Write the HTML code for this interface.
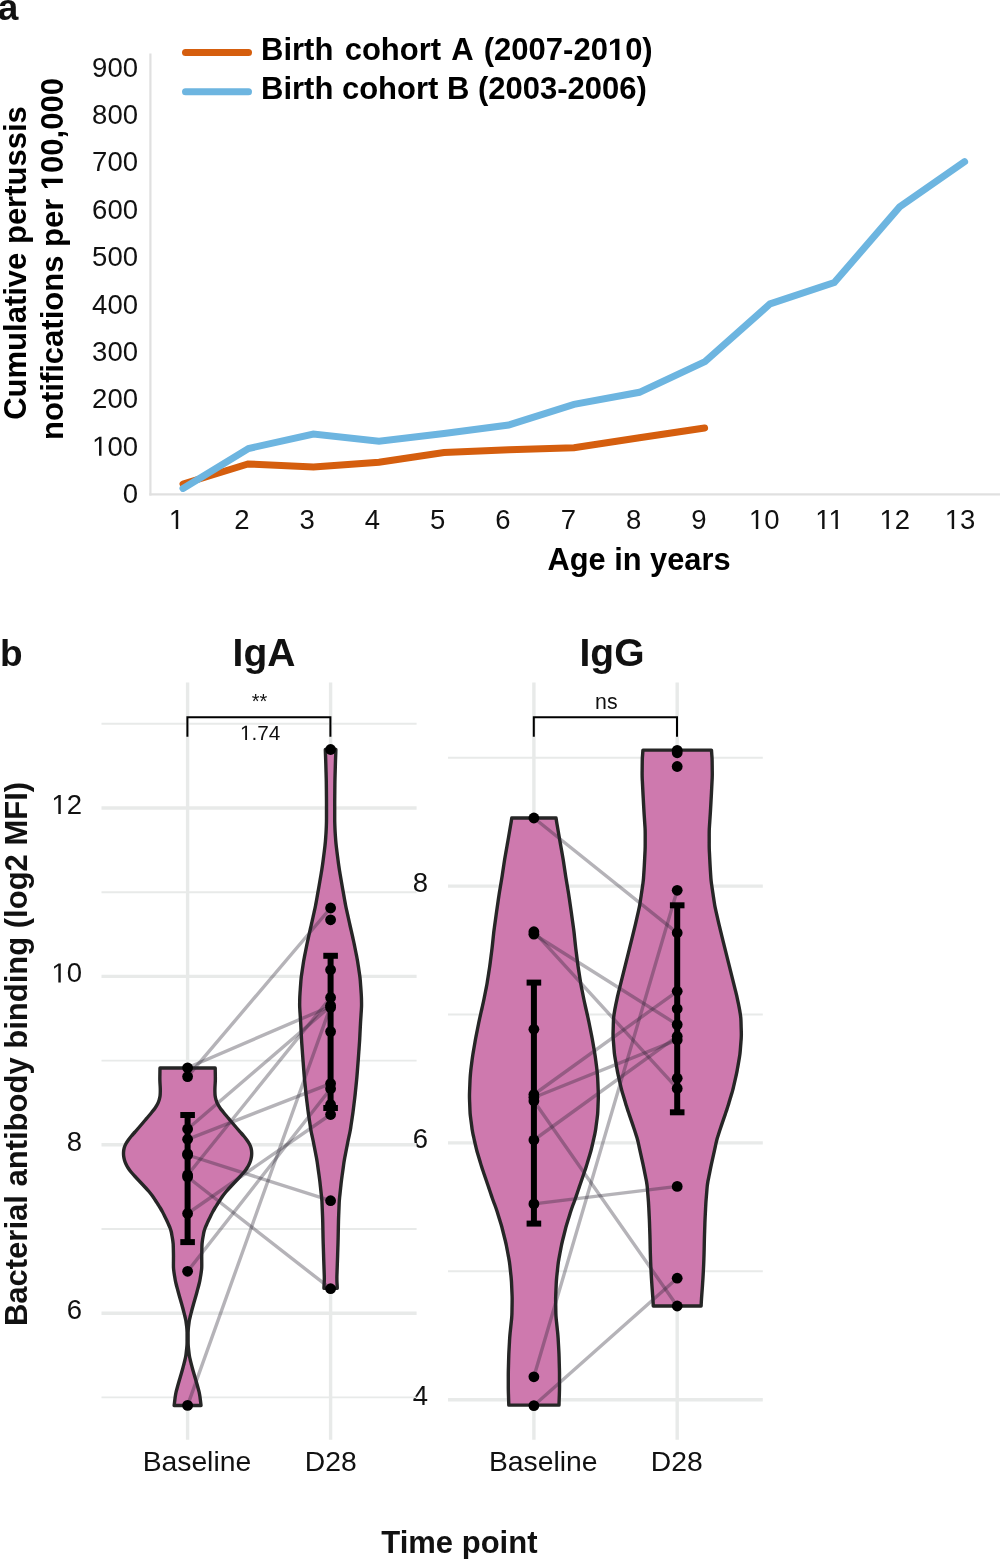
<!DOCTYPE html>
<html><head>
<meta charset="utf-8">
<style>
html,body{margin:0;padding:0;background:#fff;}
body{width:1000px;height:1559px;overflow:hidden;}
svg{display:block;will-change:transform;}
text{font-family:"Liberation Sans",sans-serif;fill:#111;}
.b{font-weight:bold;}
.one{fill:none !important;}
</style>
</head>
<body>
<svg width="1000" height="1559" viewBox="0 0 1000 1559">
<!-- ===== Panel a ===== -->
<text class="b" x="-2.3" y="20" font-size="37">a</text>
<!-- axes -->
<line x1="150.4" y1="53.5" x2="150.4" y2="495.5" stroke="#e0e0e0" stroke-width="2.2"></line>
<line x1="149.3" y1="494.4" x2="1000" y2="494.4" stroke="#e0e0e0" stroke-width="2.2"></line>
<!-- y tick labels -->
<g font-size="27.5" text-anchor="end" id="ayl">
<text x="138" y="76.5">900</text>
<text x="138" y="123.9">800</text>
<text x="138" y="171.3">700</text>
<text x="138" y="218.7">600</text>
<text x="138" y="266.1">500</text>
<text x="138" y="313.5">400</text>
<text x="138" y="360.9">300</text>
<text x="138" y="408.3">200</text>
<text x="138" y="455.7"><tspan class="one">1</tspan>00</text><path d="M515,0 L515,1237 L197,1010 L197,1180 L530,1409 L696,1409 L696,0 Z" transform="translate(92.11,455.70) scale(0.013428,-0.013428)" fill="rgb(17, 17, 17)"></path>
<text x="138" y="503.1">0</text>
</g>
<!-- x tick labels -->
<g font-size="27.5" text-anchor="middle" id="axl">
<text x="176.5" y="529"><tspan class="one">1</tspan></text><path d="M515,0 L515,1237 L197,1010 L197,1180 L530,1409 L696,1409 L696,0 Z" transform="translate(168.85,529.00) scale(0.013428,-0.013428)" fill="rgb(17, 17, 17)"></path>
<text x="241.8" y="529">2</text>
<text x="307.1" y="529">3</text>
<text x="372.4" y="529">4</text>
<text x="437.7" y="529">5</text>
<text x="503" y="529">6</text>
<text x="568.3" y="529">7</text>
<text x="633.6" y="529">8</text>
<text x="698.9" y="529">9</text>
<text x="764.2" y="529"><tspan class="one">1</tspan>0</text><path d="M515,0 L515,1237 L197,1010 L197,1180 L530,1409 L696,1409 L696,0 Z" transform="translate(748.90,529.00) scale(0.013428,-0.013428)" fill="rgb(17, 17, 17)"></path>
<text x="829.5" y="529"><tspan class="one">1</tspan><tspan class="one">1</tspan></text><path d="M515,0 L515,1237 L197,1010 L197,1180 L530,1409 L696,1409 L696,0 Z" transform="translate(815.22,529.00) scale(0.013428,-0.013428)" fill="rgb(17, 17, 17)"></path><path d="M515,0 L515,1237 L197,1010 L197,1180 L530,1409 L696,1409 L696,0 Z" transform="translate(828.48,529.00) scale(0.013428,-0.013428)" fill="rgb(17, 17, 17)"></path>
<text x="894.8" y="529"><tspan class="one">1</tspan>2</text><path d="M515,0 L515,1237 L197,1010 L197,1180 L530,1409 L696,1409 L696,0 Z" transform="translate(879.50,529.00) scale(0.013428,-0.013428)" fill="rgb(17, 17, 17)"></path>
<text x="960.1" y="529"><tspan class="one">1</tspan>3</text><path d="M515,0 L515,1237 L197,1010 L197,1180 L530,1409 L696,1409 L696,0 Z" transform="translate(944.80,529.00) scale(0.013428,-0.013428)" fill="rgb(17, 17, 17)"></path>
</g>
<text class="b" x="639" y="569.6" font-size="30.8" text-anchor="middle" style="fill:#000">Age in years</text>
<!-- y title -->
<g transform="translate(26.4,263) rotate(-90)" style="fill:#000">
<text class="b" x="0" y="0" font-size="31" text-anchor="middle" style="fill:#000">Cumulative pertussis</text>
<text class="b" x="4" y="36.4" font-size="31" text-anchor="middle" style="fill:#000">notifications per <tspan class="one">1</tspan>00,000</text><path d="M478,0 L478,1170 L140,959 L140,1180 L493,1409 L759,1409 L759,0 Z" transform="translate(72.84,36.40) scale(0.015137,-0.015137)" fill="rgb(0, 0, 0)"></path>
</g>
<!-- data lines -->
<polyline fill="none" stroke="#d55e0e" stroke-width="7" stroke-linejoin="miter" stroke-linecap="round" points="183,484 248,464 313.5,467 379,462.2 444,452.6 509,449.7 574,447.8 639.4,437.8 704.6,428"></polyline>
<polyline fill="none" stroke="#6db5e0" stroke-width="7" stroke-linejoin="miter" stroke-linecap="round" points="183,488.4 248.5,448.5 313.4,434.1 379,441.3 444,433.6 508.7,425 574,404.4 639.4,392.3 705,361.6 770,303.9 834.3,282.6 899.6,206.9 964.6,161.7"></polyline>
<!-- legend -->
<line x1="185.5" y1="52.6" x2="248.5" y2="52.6" stroke="#d55e0e" stroke-width="7" stroke-linecap="round"></line>
<line x1="185.5" y1="91.8" x2="248.5" y2="91.8" stroke="#6db5e0" stroke-width="7" stroke-linecap="round"></line>
<text class="b" x="261" y="60" font-size="31" word-spacing="2.7" style="fill:#000">Birth cohort A (2007-20<tspan class="one">1</tspan>0)</text><path d="M478,0 L478,1170 L140,959 L140,1180 L493,1409 L759,1409 L759,0 Z" transform="translate(607.88,60.00) scale(0.015137,-0.015137)" fill="rgb(0, 0, 0)"></path>
<text class="b" x="261" y="99" font-size="31" style="fill:#000">Birth cohort B (2003-2006)</text>

<!-- ===== Panel b ===== -->
<text class="b" x="0" y="665.6" font-size="37">b</text>
<text class="b" x="264" y="665.5" font-size="39" text-anchor="middle">IgA</text>
<text class="b" x="612" y="665.5" font-size="39" text-anchor="middle">IgG</text>
<!-- y title -->
<text class="b" transform="translate(26.7,1054) rotate(-90)" x="0" y="0" font-size="31" text-anchor="middle">Bacterial antibody binding (log2 MFI)</text>
<!-- y labels -->
<g font-size="27.5" text-anchor="end">
<text x="82" y="814"><tspan class="one">1</tspan>2</text><path d="M515,0 L515,1237 L197,1010 L197,1180 L530,1409 L696,1409 L696,0 Z" transform="translate(51.41,814.00) scale(0.013428,-0.013428)" fill="rgb(17, 17, 17)"></path>
<text x="82" y="982.4"><tspan class="one">1</tspan>0</text><path d="M515,0 L515,1237 L197,1010 L197,1180 L530,1409 L696,1409 L696,0 Z" transform="translate(51.41,982.40) scale(0.013428,-0.013428)" fill="rgb(17, 17, 17)"></path>
<text x="82" y="1150.8">8</text>
<text x="82" y="1319.2">6</text>
<text x="428" y="891.5">8</text>
<text x="428" y="1148.3">6</text>
<text x="428" y="1404.7">4</text>
</g>
<!-- x labels -->
<g font-size="28.3" text-anchor="middle">
<text x="196.9" y="1471.3">Baseline</text>
<text x="330.7" y="1471.3">D28</text>
<text x="543.2" y="1471.3">Baseline</text>
<text x="676.7" y="1471.3">D28</text>
</g>
<text class="b" x="459.4" y="1552.7" font-size="31" text-anchor="middle">Time point</text>
<line x1="101.5" y1="1397.4" x2="416.6" y2="1397.4" stroke="#e8eae9" stroke-width="1.9"></line>
<line x1="101.5" y1="1313.2" x2="416.6" y2="1313.2" stroke="#e8eae9" stroke-width="3.4"></line>
<line x1="101.5" y1="1229.0" x2="416.6" y2="1229.0" stroke="#e8eae9" stroke-width="1.9"></line>
<line x1="101.5" y1="1144.8" x2="416.6" y2="1144.8" stroke="#e8eae9" stroke-width="3.4"></line>
<line x1="101.5" y1="1060.6" x2="416.6" y2="1060.6" stroke="#e8eae9" stroke-width="1.9"></line>
<line x1="101.5" y1="976.4" x2="416.6" y2="976.4" stroke="#e8eae9" stroke-width="3.4"></line>
<line x1="101.5" y1="892.2" x2="416.6" y2="892.2" stroke="#e8eae9" stroke-width="1.9"></line>
<line x1="101.5" y1="808.0" x2="416.6" y2="808.0" stroke="#e8eae9" stroke-width="3.4"></line>
<line x1="101.5" y1="723.8" x2="416.6" y2="723.8" stroke="#e8eae9" stroke-width="1.9"></line>
<line x1="448.0" y1="1399.7" x2="762.8" y2="1399.7" stroke="#e8eae9" stroke-width="3.4"></line>
<line x1="448.0" y1="1271.3" x2="762.8" y2="1271.3" stroke="#e8eae9" stroke-width="1.9"></line>
<line x1="448.0" y1="1142.9" x2="762.8" y2="1142.9" stroke="#e8eae9" stroke-width="3.4"></line>
<line x1="448.0" y1="1014.5" x2="762.8" y2="1014.5" stroke="#e8eae9" stroke-width="1.9"></line>
<line x1="448.0" y1="886.1" x2="762.8" y2="886.1" stroke="#e8eae9" stroke-width="3.4"></line>
<line x1="448.0" y1="757.7" x2="762.8" y2="757.7" stroke="#e8eae9" stroke-width="1.9"></line>
<line x1="187.6" y1="682.4" x2="187.6" y2="1439.8" stroke="#e8eae9" stroke-width="3.4"></line>
<line x1="330.6" y1="682.4" x2="330.6" y2="1439.8" stroke="#e8eae9" stroke-width="3.4"></line>
<line x1="533.9" y1="682.4" x2="533.9" y2="1439.8" stroke="#e8eae9" stroke-width="3.4"></line>
<line x1="677.2" y1="682.4" x2="677.2" y2="1439.8" stroke="#e8eae9" stroke-width="3.4"></line>
<path d="M159.99,1068.00 C159.98,1068.67 159.95,1070.67 159.93,1072.00 C159.91,1073.33 159.88,1074.67 159.87,1076.00 C159.86,1077.33 159.83,1078.67 159.86,1080.00 C159.89,1081.33 159.97,1082.67 160.04,1084.00 C160.11,1085.33 160.22,1086.67 160.26,1088.00 C160.30,1089.33 160.32,1090.67 160.28,1092.00 C160.25,1093.33 160.23,1094.67 160.05,1096.00 C159.86,1097.33 159.56,1098.67 159.14,1100.00 C158.73,1101.33 158.21,1102.67 157.54,1104.00 C156.87,1105.33 156.06,1106.67 155.14,1108.00 C154.21,1109.33 153.07,1110.67 151.99,1112.00 C150.92,1113.33 149.81,1114.67 148.69,1116.00 C147.58,1117.33 146.43,1118.67 145.30,1120.00 C144.17,1121.33 143.03,1122.67 141.90,1124.00 C140.77,1125.33 139.64,1126.67 138.49,1128.00 C137.34,1129.33 136.17,1130.67 134.99,1132.00 C133.82,1133.33 132.55,1134.67 131.44,1136.00 C130.33,1137.33 129.28,1138.67 128.34,1140.00 C127.40,1141.33 126.47,1142.67 125.78,1144.00 C125.08,1145.33 124.55,1146.67 124.18,1148.00 C123.81,1149.33 123.64,1150.67 123.56,1152.00 C123.47,1153.33 123.50,1154.67 123.65,1156.00 C123.80,1157.33 124.07,1158.67 124.45,1160.00 C124.84,1161.33 125.34,1162.67 125.95,1164.00 C126.57,1165.33 127.31,1166.67 128.15,1168.00 C129.00,1169.33 129.98,1170.67 131.05,1172.00 C132.13,1173.33 133.40,1174.67 134.61,1176.00 C135.82,1177.33 137.06,1178.67 138.31,1180.00 C139.56,1181.33 140.84,1182.67 142.09,1184.00 C143.34,1185.33 144.58,1186.67 145.79,1188.00 C147.00,1189.33 148.25,1190.67 149.36,1192.00 C150.48,1193.33 151.53,1194.67 152.50,1196.00 C153.47,1197.33 154.30,1198.67 155.18,1200.00 C156.06,1201.33 156.91,1202.67 157.76,1204.00 C158.61,1205.33 159.49,1206.67 160.30,1208.00 C161.10,1209.33 161.86,1210.67 162.58,1212.00 C163.29,1213.33 163.94,1214.67 164.60,1216.00 C165.26,1217.33 165.93,1218.67 166.55,1220.00 C167.18,1221.33 167.77,1222.67 168.36,1224.00 C168.95,1225.33 169.59,1226.67 170.08,1228.00 C170.57,1229.33 170.98,1230.67 171.30,1232.00 C171.63,1233.33 171.80,1234.67 172.03,1236.00 C172.27,1237.33 172.52,1238.67 172.71,1240.00 C172.90,1241.33 173.08,1242.67 173.18,1244.00 C173.28,1245.33 173.28,1246.67 173.32,1248.00 C173.36,1249.33 173.39,1250.67 173.41,1252.00 C173.44,1253.33 173.47,1254.67 173.48,1256.00 C173.49,1257.33 173.47,1258.67 173.47,1260.00 C173.46,1261.33 173.43,1262.67 173.44,1264.00 C173.44,1265.33 173.41,1266.67 173.50,1268.00 C173.59,1269.33 173.77,1270.67 173.95,1272.00 C174.13,1273.33 174.36,1274.67 174.57,1276.00 C174.79,1277.33 174.97,1278.67 175.23,1280.00 C175.49,1281.33 175.80,1282.67 176.13,1284.00 C176.45,1285.33 176.83,1286.67 177.18,1288.00 C177.53,1289.33 177.88,1290.67 178.25,1292.00 C178.61,1293.33 178.98,1294.67 179.35,1296.00 C179.73,1297.33 180.12,1298.67 180.51,1300.00 C180.89,1301.33 181.28,1302.67 181.66,1304.00 C182.04,1305.33 182.41,1306.67 182.77,1308.00 C183.13,1309.33 183.47,1310.67 183.81,1312.00 C184.16,1313.33 184.52,1314.67 184.84,1316.00 C185.17,1317.33 185.50,1318.67 185.75,1320.00 C186.00,1321.33 186.16,1322.67 186.34,1324.00 C186.52,1325.33 186.70,1326.67 186.83,1328.00 C186.95,1329.33 187.03,1330.67 187.08,1332.00 C187.13,1333.33 187.10,1334.67 187.10,1336.00 C187.10,1337.33 187.11,1338.67 187.10,1340.00 C187.09,1341.33 187.11,1342.67 187.06,1344.00 C187.00,1345.33 186.88,1346.67 186.76,1348.00 C186.63,1349.33 186.48,1350.67 186.31,1352.00 C186.15,1353.33 186.02,1354.67 185.79,1356.00 C185.56,1357.33 185.24,1358.67 184.93,1360.00 C184.62,1361.33 184.26,1362.67 183.92,1364.00 C183.58,1365.33 183.25,1366.67 182.88,1368.00 C182.52,1369.33 182.14,1370.67 181.75,1372.00 C181.37,1373.33 180.97,1374.67 180.58,1376.00 C180.18,1377.33 179.79,1378.67 179.40,1380.00 C179.02,1381.33 178.64,1382.67 178.26,1384.00 C177.89,1385.33 177.51,1386.67 177.15,1388.00 C176.79,1389.33 176.38,1390.67 176.08,1392.00 C175.78,1393.33 175.56,1394.67 175.35,1396.00 C175.14,1397.33 175.01,1398.42 174.82,1400.00 C174.62,1401.58 174.28,1404.58 174.18,1405.50 L201.02,1405.50 C200.92,1404.58 200.58,1401.58 200.38,1400.00 C200.19,1398.42 200.06,1397.33 199.85,1396.00 C199.64,1394.67 199.42,1393.33 199.12,1392.00 C198.82,1390.67 198.41,1389.33 198.05,1388.00 C197.69,1386.67 197.31,1385.33 196.94,1384.00 C196.56,1382.67 196.18,1381.33 195.80,1380.00 C195.41,1378.67 195.02,1377.33 194.62,1376.00 C194.23,1374.67 193.83,1373.33 193.45,1372.00 C193.06,1370.67 192.68,1369.33 192.32,1368.00 C191.95,1366.67 191.62,1365.33 191.28,1364.00 C190.94,1362.67 190.58,1361.33 190.27,1360.00 C189.96,1358.67 189.64,1357.33 189.41,1356.00 C189.18,1354.67 189.05,1353.33 188.89,1352.00 C188.72,1350.67 188.57,1349.33 188.44,1348.00 C188.32,1346.67 188.20,1345.33 188.14,1344.00 C188.09,1342.67 188.11,1341.33 188.10,1340.00 C188.09,1338.67 188.10,1337.33 188.10,1336.00 C188.10,1334.67 188.07,1333.33 188.12,1332.00 C188.17,1330.67 188.25,1329.33 188.37,1328.00 C188.50,1326.67 188.68,1325.33 188.86,1324.00 C189.04,1322.67 189.20,1321.33 189.45,1320.00 C189.70,1318.67 190.03,1317.33 190.36,1316.00 C190.68,1314.67 191.04,1313.33 191.39,1312.00 C191.73,1310.67 192.07,1309.33 192.43,1308.00 C192.79,1306.67 193.16,1305.33 193.54,1304.00 C193.92,1302.67 194.31,1301.33 194.69,1300.00 C195.08,1298.67 195.47,1297.33 195.85,1296.00 C196.22,1294.67 196.59,1293.33 196.95,1292.00 C197.32,1290.67 197.67,1289.33 198.02,1288.00 C198.37,1286.67 198.75,1285.33 199.07,1284.00 C199.40,1282.67 199.71,1281.33 199.97,1280.00 C200.23,1278.67 200.41,1277.33 200.63,1276.00 C200.84,1274.67 201.07,1273.33 201.25,1272.00 C201.43,1270.67 201.61,1269.33 201.70,1268.00 C201.79,1266.67 201.76,1265.33 201.76,1264.00 C201.77,1262.67 201.74,1261.33 201.73,1260.00 C201.73,1258.67 201.71,1257.33 201.72,1256.00 C201.73,1254.67 201.76,1253.33 201.79,1252.00 C201.81,1250.67 201.84,1249.33 201.88,1248.00 C201.92,1246.67 201.92,1245.33 202.02,1244.00 C202.12,1242.67 202.30,1241.33 202.49,1240.00 C202.68,1238.67 202.93,1237.33 203.17,1236.00 C203.40,1234.67 203.57,1233.33 203.90,1232.00 C204.22,1230.67 204.63,1229.33 205.12,1228.00 C205.61,1226.67 206.25,1225.33 206.84,1224.00 C207.43,1222.67 208.02,1221.33 208.65,1220.00 C209.27,1218.67 209.94,1217.33 210.60,1216.00 C211.26,1214.67 211.91,1213.33 212.62,1212.00 C213.34,1210.67 214.10,1209.33 214.90,1208.00 C215.71,1206.67 216.59,1205.33 217.44,1204.00 C218.29,1202.67 219.14,1201.33 220.02,1200.00 C220.90,1198.67 221.73,1197.33 222.70,1196.00 C223.67,1194.67 224.72,1193.33 225.84,1192.00 C226.95,1190.67 228.20,1189.33 229.41,1188.00 C230.62,1186.67 231.86,1185.33 233.11,1184.00 C234.36,1182.67 235.64,1181.33 236.89,1180.00 C238.14,1178.67 239.38,1177.33 240.59,1176.00 C241.80,1174.67 243.07,1173.33 244.15,1172.00 C245.22,1170.67 246.20,1169.33 247.05,1168.00 C247.89,1166.67 248.63,1165.33 249.25,1164.00 C249.86,1162.67 250.36,1161.33 250.75,1160.00 C251.13,1158.67 251.40,1157.33 251.55,1156.00 C251.70,1154.67 251.73,1153.33 251.64,1152.00 C251.56,1150.67 251.39,1149.33 251.02,1148.00 C250.65,1146.67 250.12,1145.33 249.42,1144.00 C248.73,1142.67 247.80,1141.33 246.86,1140.00 C245.92,1138.67 244.87,1137.33 243.76,1136.00 C242.65,1134.67 241.38,1133.33 240.21,1132.00 C239.03,1130.67 237.86,1129.33 236.71,1128.00 C235.56,1126.67 234.43,1125.33 233.30,1124.00 C232.17,1122.67 231.03,1121.33 229.90,1120.00 C228.77,1118.67 227.62,1117.33 226.51,1116.00 C225.39,1114.67 224.28,1113.33 223.21,1112.00 C222.13,1110.67 220.99,1109.33 220.06,1108.00 C219.14,1106.67 218.33,1105.33 217.66,1104.00 C216.99,1102.67 216.47,1101.33 216.06,1100.00 C215.64,1098.67 215.34,1097.33 215.15,1096.00 C214.97,1094.67 214.95,1093.33 214.92,1092.00 C214.88,1090.67 214.90,1089.33 214.94,1088.00 C214.98,1086.67 215.09,1085.33 215.16,1084.00 C215.23,1082.67 215.31,1081.33 215.34,1080.00 C215.37,1078.67 215.34,1077.33 215.33,1076.00 C215.32,1074.67 215.29,1073.33 215.27,1072.00 C215.25,1070.67 215.22,1068.67 215.21,1068.00 Z" fill="#ce79ae" stroke="#262626" stroke-width="3.4" stroke-linejoin="round"></path>
<path d="M325.33,749.50 C325.35,750.17 325.41,752.17 325.45,753.50 C325.50,754.83 325.56,756.17 325.60,757.50 C325.65,758.83 325.70,760.17 325.74,761.50 C325.78,762.83 325.82,764.17 325.86,765.50 C325.90,766.83 325.93,768.17 325.97,769.50 C326.01,770.83 326.05,772.17 326.09,773.50 C326.12,774.83 326.16,776.17 326.20,777.50 C326.23,778.83 326.27,780.17 326.29,781.50 C326.32,782.83 326.33,784.17 326.34,785.50 C326.36,786.83 326.37,788.17 326.39,789.50 C326.40,790.83 326.41,792.17 326.42,793.50 C326.44,794.83 326.45,796.17 326.46,797.50 C326.48,798.83 326.49,800.17 326.49,801.50 C326.50,802.83 326.50,804.17 326.50,805.50 C326.50,806.83 326.50,808.17 326.50,809.50 C326.50,810.83 326.50,812.17 326.50,813.50 C326.50,814.83 326.50,816.17 326.50,817.50 C326.50,818.83 326.50,820.17 326.48,821.50 C326.45,822.83 326.41,824.17 326.36,825.50 C326.31,826.83 326.26,828.17 326.20,829.50 C326.13,830.83 326.06,832.17 325.98,833.50 C325.90,834.83 325.80,836.17 325.70,837.50 C325.60,838.83 325.51,840.17 325.40,841.50 C325.28,842.83 325.14,844.17 325.00,845.50 C324.85,846.83 324.68,848.17 324.52,849.50 C324.36,850.83 324.20,852.17 324.03,853.50 C323.86,854.83 323.69,856.17 323.51,857.50 C323.34,858.83 323.17,860.17 322.99,861.50 C322.81,862.83 322.63,864.17 322.44,865.50 C322.25,866.83 322.06,868.17 321.85,869.50 C321.65,870.83 321.42,872.17 321.20,873.50 C320.97,874.83 320.74,876.17 320.51,877.50 C320.28,878.83 320.05,880.17 319.82,881.50 C319.59,882.83 319.36,884.17 319.13,885.50 C318.90,886.83 318.67,888.17 318.43,889.50 C318.20,890.83 317.96,892.17 317.72,893.50 C317.49,894.83 317.25,896.17 317.01,897.50 C316.77,898.83 316.54,900.17 316.30,901.50 C316.06,902.83 315.83,904.17 315.56,905.50 C315.30,906.83 315.01,908.17 314.72,909.50 C314.43,910.83 314.13,912.17 313.83,913.50 C313.54,914.83 313.24,916.17 312.94,917.50 C312.65,918.83 312.35,920.17 312.05,921.50 C311.76,922.83 311.46,924.17 311.16,925.50 C310.86,926.83 310.55,928.17 310.25,929.50 C309.94,930.83 309.64,932.17 309.34,933.50 C309.03,934.83 308.73,936.17 308.43,937.50 C308.12,938.83 307.82,940.17 307.53,941.50 C307.24,942.83 306.97,944.17 306.70,945.50 C306.43,946.83 306.17,948.17 305.90,949.50 C305.63,950.83 305.37,952.17 305.10,953.50 C304.83,954.83 304.56,956.17 304.31,957.50 C304.05,958.83 303.81,960.17 303.59,961.50 C303.37,962.83 303.18,964.17 302.98,965.50 C302.77,966.83 302.57,968.17 302.38,969.50 C302.18,970.83 301.97,972.17 301.78,973.50 C301.58,974.83 301.37,976.17 301.22,977.50 C301.07,978.83 300.96,980.17 300.85,981.50 C300.74,982.83 300.66,984.17 300.56,985.50 C300.46,986.83 300.36,988.17 300.27,989.50 C300.17,990.83 300.07,992.17 299.99,993.50 C299.91,994.83 299.83,996.17 299.78,997.50 C299.73,998.83 299.71,1000.17 299.69,1001.50 C299.67,1002.83 299.64,1004.17 299.66,1005.50 C299.68,1006.83 299.76,1008.17 299.83,1009.50 C299.90,1010.83 300.00,1012.17 300.09,1013.50 C300.17,1014.83 300.26,1016.17 300.34,1017.50 C300.43,1018.83 300.52,1020.17 300.60,1021.50 C300.68,1022.83 300.75,1024.17 300.82,1025.50 C300.89,1026.83 300.96,1028.17 301.02,1029.50 C301.09,1030.83 301.16,1032.17 301.23,1033.50 C301.29,1034.83 301.36,1036.17 301.43,1037.50 C301.50,1038.83 301.57,1040.17 301.65,1041.50 C301.73,1042.83 301.83,1044.17 301.93,1045.50 C302.02,1046.83 302.12,1048.17 302.21,1049.50 C302.31,1050.83 302.41,1052.17 302.50,1053.50 C302.60,1054.83 302.69,1056.17 302.79,1057.50 C302.89,1058.83 302.99,1060.17 303.10,1061.50 C303.20,1062.83 303.30,1064.17 303.41,1065.50 C303.51,1066.83 303.61,1068.17 303.72,1069.50 C303.82,1070.83 303.92,1072.17 304.03,1073.50 C304.14,1074.83 304.24,1076.17 304.36,1077.50 C304.48,1078.83 304.62,1080.17 304.75,1081.50 C304.88,1082.83 305.02,1084.17 305.15,1085.50 C305.28,1086.83 305.42,1088.17 305.55,1089.50 C305.68,1090.83 305.81,1092.17 305.96,1093.50 C306.10,1094.83 306.25,1096.17 306.41,1097.50 C306.56,1098.83 306.73,1100.17 306.89,1101.50 C307.06,1102.83 307.22,1104.17 307.38,1105.50 C307.55,1106.83 307.71,1108.17 307.87,1109.50 C308.04,1110.83 308.21,1112.17 308.39,1113.50 C308.57,1114.83 308.78,1116.17 308.98,1117.50 C309.17,1118.83 309.38,1120.17 309.58,1121.50 C309.77,1122.83 309.97,1124.17 310.18,1125.50 C310.38,1126.83 310.56,1128.17 310.79,1129.50 C311.03,1130.83 311.29,1132.17 311.56,1133.50 C311.84,1134.83 312.15,1136.17 312.44,1137.50 C312.73,1138.83 313.01,1140.17 313.29,1141.50 C313.56,1142.83 313.81,1144.17 314.07,1145.50 C314.33,1146.83 314.59,1148.17 314.85,1149.50 C315.11,1150.83 315.37,1152.17 315.63,1153.50 C315.89,1154.83 316.16,1156.17 316.41,1157.50 C316.65,1158.83 316.88,1160.17 317.10,1161.50 C317.31,1162.83 317.48,1164.17 317.67,1165.50 C317.86,1166.83 318.04,1168.17 318.23,1169.50 C318.42,1170.83 318.60,1172.17 318.79,1173.50 C318.98,1174.83 319.17,1176.17 319.35,1177.50 C319.52,1178.83 319.70,1180.17 319.86,1181.50 C320.02,1182.83 320.16,1184.17 320.30,1185.50 C320.45,1186.83 320.60,1188.17 320.75,1189.50 C320.89,1190.83 321.04,1192.17 321.18,1193.50 C321.33,1194.83 321.49,1196.17 321.62,1197.50 C321.74,1198.83 321.86,1200.17 321.94,1201.50 C322.02,1202.83 322.06,1204.17 322.12,1205.50 C322.18,1206.83 322.23,1208.17 322.28,1209.50 C322.33,1210.83 322.39,1212.17 322.44,1213.50 C322.49,1214.83 322.55,1216.17 322.60,1217.50 C322.65,1218.83 322.69,1220.17 322.72,1221.50 C322.76,1222.83 322.78,1224.17 322.81,1225.50 C322.84,1226.83 322.86,1228.17 322.89,1229.50 C322.92,1230.83 322.94,1232.17 322.97,1233.50 C323.00,1234.83 323.02,1236.17 323.05,1237.50 C323.08,1238.83 323.11,1240.17 323.15,1241.50 C323.19,1242.83 323.23,1244.17 323.27,1245.50 C323.32,1246.83 323.36,1248.17 323.40,1249.50 C323.44,1250.83 323.48,1252.17 323.53,1253.50 C323.57,1254.83 323.61,1256.17 323.65,1257.50 C323.70,1258.83 323.74,1260.17 323.79,1261.50 C323.83,1262.83 323.88,1264.17 323.93,1265.50 C323.97,1266.83 324.02,1268.17 324.07,1269.50 C324.11,1270.83 324.16,1272.17 324.21,1273.50 C324.25,1274.83 324.32,1276.17 324.32,1277.50 C324.33,1278.83 324.30,1280.17 324.26,1281.50 C324.21,1282.83 324.11,1284.37 324.05,1285.50 C324.00,1286.63 323.96,1287.83 323.94,1288.30 L337.26,1288.30 C337.24,1287.83 337.20,1286.63 337.15,1285.50 C337.09,1284.37 336.99,1282.83 336.94,1281.50 C336.90,1280.17 336.87,1278.83 336.88,1277.50 C336.88,1276.17 336.95,1274.83 336.99,1273.50 C337.04,1272.17 337.09,1270.83 337.13,1269.50 C337.18,1268.17 337.23,1266.83 337.27,1265.50 C337.32,1264.17 337.37,1262.83 337.41,1261.50 C337.46,1260.17 337.50,1258.83 337.55,1257.50 C337.59,1256.17 337.63,1254.83 337.67,1253.50 C337.72,1252.17 337.76,1250.83 337.80,1249.50 C337.84,1248.17 337.88,1246.83 337.93,1245.50 C337.97,1244.17 338.01,1242.83 338.05,1241.50 C338.09,1240.17 338.12,1238.83 338.15,1237.50 C338.18,1236.17 338.20,1234.83 338.23,1233.50 C338.26,1232.17 338.28,1230.83 338.31,1229.50 C338.34,1228.17 338.36,1226.83 338.39,1225.50 C338.42,1224.17 338.44,1222.83 338.48,1221.50 C338.51,1220.17 338.55,1218.83 338.60,1217.50 C338.65,1216.17 338.71,1214.83 338.76,1213.50 C338.81,1212.17 338.87,1210.83 338.92,1209.50 C338.97,1208.17 339.02,1206.83 339.08,1205.50 C339.14,1204.17 339.18,1202.83 339.26,1201.50 C339.34,1200.17 339.46,1198.83 339.58,1197.50 C339.71,1196.17 339.87,1194.83 340.02,1193.50 C340.16,1192.17 340.31,1190.83 340.46,1189.50 C340.60,1188.17 340.75,1186.83 340.90,1185.50 C341.04,1184.17 341.18,1182.83 341.34,1181.50 C341.50,1180.17 341.68,1178.83 341.85,1177.50 C342.03,1176.17 342.22,1174.83 342.41,1173.50 C342.60,1172.17 342.78,1170.83 342.97,1169.50 C343.16,1168.17 343.34,1166.83 343.53,1165.50 C343.72,1164.17 343.89,1162.83 344.10,1161.50 C344.32,1160.17 344.55,1158.83 344.79,1157.50 C345.04,1156.17 345.31,1154.83 345.57,1153.50 C345.83,1152.17 346.09,1150.83 346.35,1149.50 C346.61,1148.17 346.87,1146.83 347.13,1145.50 C347.39,1144.17 347.64,1142.83 347.91,1141.50 C348.19,1140.17 348.47,1138.83 348.76,1137.50 C349.05,1136.17 349.36,1134.83 349.64,1133.50 C349.91,1132.17 350.17,1130.83 350.41,1129.50 C350.64,1128.17 350.82,1126.83 351.02,1125.50 C351.23,1124.17 351.43,1122.83 351.62,1121.50 C351.82,1120.17 352.03,1118.83 352.22,1117.50 C352.42,1116.17 352.63,1114.83 352.81,1113.50 C352.99,1112.17 353.16,1110.83 353.33,1109.50 C353.49,1108.17 353.65,1106.83 353.82,1105.50 C353.98,1104.17 354.14,1102.83 354.31,1101.50 C354.47,1100.17 354.64,1098.83 354.79,1097.50 C354.95,1096.17 355.10,1094.83 355.24,1093.50 C355.39,1092.17 355.52,1090.83 355.65,1089.50 C355.78,1088.17 355.92,1086.83 356.05,1085.50 C356.18,1084.17 356.32,1082.83 356.45,1081.50 C356.58,1080.17 356.72,1078.83 356.84,1077.50 C356.96,1076.17 357.06,1074.83 357.17,1073.50 C357.28,1072.17 357.38,1070.83 357.48,1069.50 C357.59,1068.17 357.69,1066.83 357.79,1065.50 C357.90,1064.17 358.00,1062.83 358.10,1061.50 C358.21,1060.17 358.31,1058.83 358.41,1057.50 C358.51,1056.17 358.60,1054.83 358.70,1053.50 C358.79,1052.17 358.89,1050.83 358.99,1049.50 C359.08,1048.17 359.18,1046.83 359.27,1045.50 C359.37,1044.17 359.47,1042.83 359.55,1041.50 C359.63,1040.17 359.70,1038.83 359.77,1037.50 C359.84,1036.17 359.91,1034.83 359.97,1033.50 C360.04,1032.17 360.11,1030.83 360.18,1029.50 C360.24,1028.17 360.31,1026.83 360.38,1025.50 C360.45,1024.17 360.52,1022.83 360.60,1021.50 C360.68,1020.17 360.77,1018.83 360.86,1017.50 C360.94,1016.17 361.03,1014.83 361.11,1013.50 C361.20,1012.17 361.30,1010.83 361.37,1009.50 C361.44,1008.17 361.52,1006.83 361.54,1005.50 C361.56,1004.17 361.53,1002.83 361.51,1001.50 C361.49,1000.17 361.47,998.83 361.42,997.50 C361.37,996.17 361.29,994.83 361.21,993.50 C361.13,992.17 361.03,990.83 360.93,989.50 C360.84,988.17 360.74,986.83 360.64,985.50 C360.54,984.17 360.46,982.83 360.35,981.50 C360.24,980.17 360.13,978.83 359.98,977.50 C359.83,976.17 359.62,974.83 359.42,973.50 C359.23,972.17 359.02,970.83 358.83,969.50 C358.63,968.17 358.43,966.83 358.22,965.50 C358.02,964.17 357.83,962.83 357.61,961.50 C357.39,960.17 357.15,958.83 356.89,957.50 C356.64,956.17 356.37,954.83 356.10,953.50 C355.83,952.17 355.57,950.83 355.30,949.50 C355.03,948.17 354.77,946.83 354.50,945.50 C354.23,944.17 353.96,942.83 353.67,941.50 C353.38,940.17 353.08,938.83 352.77,937.50 C352.47,936.17 352.17,934.83 351.86,933.50 C351.56,932.17 351.26,930.83 350.95,929.50 C350.65,928.17 350.34,926.83 350.04,925.50 C349.74,924.17 349.44,922.83 349.15,921.50 C348.85,920.17 348.55,918.83 348.26,917.50 C347.96,916.17 347.66,914.83 347.37,913.50 C347.07,912.17 346.77,910.83 346.48,909.50 C346.19,908.17 345.90,906.83 345.64,905.50 C345.37,904.17 345.14,902.83 344.90,901.50 C344.66,900.17 344.43,898.83 344.19,897.50 C343.95,896.17 343.71,894.83 343.48,893.50 C343.24,892.17 343.00,890.83 342.77,889.50 C342.53,888.17 342.30,886.83 342.07,885.50 C341.84,884.17 341.61,882.83 341.38,881.50 C341.15,880.17 340.92,878.83 340.69,877.50 C340.46,876.17 340.23,874.83 340.00,873.50 C339.78,872.17 339.55,870.83 339.35,869.50 C339.14,868.17 338.95,866.83 338.76,865.50 C338.57,864.17 338.39,862.83 338.21,861.50 C338.03,860.17 337.86,858.83 337.69,857.50 C337.51,856.17 337.34,854.83 337.17,853.50 C337.00,852.17 336.84,850.83 336.68,849.50 C336.52,848.17 336.35,846.83 336.20,845.50 C336.06,844.17 335.92,842.83 335.80,841.50 C335.69,840.17 335.60,838.83 335.50,837.50 C335.40,836.17 335.30,834.83 335.22,833.50 C335.14,832.17 335.07,830.83 335.00,829.50 C334.94,828.17 334.89,826.83 334.84,825.50 C334.79,824.17 334.75,822.83 334.72,821.50 C334.70,820.17 334.70,818.83 334.70,817.50 C334.70,816.17 334.70,814.83 334.70,813.50 C334.70,812.17 334.70,810.83 334.70,809.50 C334.70,808.17 334.70,806.83 334.70,805.50 C334.70,804.17 334.70,802.83 334.71,801.50 C334.71,800.17 334.72,798.83 334.74,797.50 C334.75,796.17 334.76,794.83 334.78,793.50 C334.79,792.17 334.80,790.83 334.81,789.50 C334.83,788.17 334.84,786.83 334.86,785.50 C334.87,784.17 334.88,782.83 334.91,781.50 C334.93,780.17 334.97,778.83 335.00,777.50 C335.04,776.17 335.08,774.83 335.11,773.50 C335.15,772.17 335.19,770.83 335.23,769.50 C335.27,768.17 335.30,766.83 335.34,765.50 C335.38,764.17 335.42,762.83 335.46,761.50 C335.50,760.17 335.55,758.83 335.60,757.50 C335.64,756.17 335.70,754.83 335.75,753.50 C335.79,752.17 335.85,750.17 335.87,749.50 Z" fill="#ce79ae" stroke="#262626" stroke-width="3.4" stroke-linejoin="round"></path>
<path d="M511.76,818.00 C511.66,818.67 511.39,820.67 511.18,822.00 C510.97,823.33 510.71,824.67 510.48,826.00 C510.25,827.33 510.02,828.67 509.79,830.00 C509.56,831.33 509.34,832.67 509.11,834.00 C508.88,835.33 508.65,836.67 508.42,838.00 C508.19,839.33 507.95,840.67 507.72,842.00 C507.49,843.33 507.25,844.67 507.01,846.00 C506.77,847.33 506.54,848.67 506.30,850.00 C506.06,851.33 505.82,852.67 505.59,854.00 C505.35,855.33 505.11,856.67 504.89,858.00 C504.67,859.33 504.46,860.67 504.25,862.00 C504.05,863.33 503.85,864.67 503.65,866.00 C503.45,867.33 503.25,868.67 503.05,870.00 C502.85,871.33 502.65,872.67 502.45,874.00 C502.25,875.33 502.04,876.67 501.83,878.00 C501.61,879.33 501.39,880.67 501.17,882.00 C500.95,883.33 500.72,884.67 500.50,886.00 C500.28,887.33 500.05,888.67 499.83,890.00 C499.61,891.33 499.39,892.67 499.18,894.00 C498.96,895.33 498.77,896.67 498.57,898.00 C498.37,899.33 498.18,900.67 497.99,902.00 C497.80,903.33 497.60,904.67 497.41,906.00 C497.22,907.33 497.02,908.67 496.83,910.00 C496.64,911.33 496.45,912.67 496.26,914.00 C496.08,915.33 495.89,916.67 495.71,918.00 C495.52,919.33 495.34,920.67 495.15,922.00 C494.96,923.33 494.78,924.67 494.59,926.00 C494.41,927.33 494.22,928.67 494.05,930.00 C493.88,931.33 493.73,932.67 493.58,934.00 C493.44,935.33 493.30,936.67 493.16,938.00 C493.02,939.33 492.88,940.67 492.74,942.00 C492.59,943.33 492.46,944.67 492.31,946.00 C492.16,947.33 492.00,948.67 491.84,950.00 C491.68,951.33 491.50,952.67 491.33,954.00 C491.16,955.33 490.99,956.67 490.82,958.00 C490.65,959.33 490.48,960.67 490.31,962.00 C490.14,963.33 489.97,964.67 489.78,966.00 C489.59,967.33 489.38,968.67 489.18,970.00 C488.97,971.33 488.76,972.67 488.56,974.00 C488.35,975.33 488.14,976.67 487.93,978.00 C487.72,979.33 487.53,980.67 487.30,982.00 C487.08,983.33 486.84,984.67 486.59,986.00 C486.34,987.33 486.07,988.67 485.80,990.00 C485.53,991.33 485.27,992.67 485.00,994.00 C484.73,995.33 484.47,996.67 484.20,998.00 C483.93,999.33 483.66,1000.67 483.38,1002.00 C483.09,1003.33 482.79,1004.67 482.49,1006.00 C482.19,1007.33 481.88,1008.67 481.58,1010.00 C481.27,1011.33 480.97,1012.67 480.67,1014.00 C480.36,1015.33 480.05,1016.67 479.76,1018.00 C479.47,1019.33 479.18,1020.67 478.90,1022.00 C478.63,1023.33 478.37,1024.67 478.10,1026.00 C477.83,1027.33 477.57,1028.67 477.30,1030.00 C477.03,1031.33 476.76,1032.67 476.50,1034.00 C476.24,1035.33 475.97,1036.67 475.72,1038.00 C475.47,1039.33 475.24,1040.67 475.01,1042.00 C474.78,1043.33 474.55,1044.67 474.32,1046.00 C474.09,1047.33 473.86,1048.67 473.63,1050.00 C473.40,1051.33 473.17,1052.67 472.95,1054.00 C472.74,1055.33 472.54,1056.67 472.35,1058.00 C472.16,1059.33 472.00,1060.67 471.83,1062.00 C471.66,1063.33 471.48,1064.67 471.31,1066.00 C471.15,1067.33 470.98,1068.67 470.83,1070.00 C470.69,1071.33 470.57,1072.67 470.45,1074.00 C470.34,1075.33 470.22,1076.67 470.14,1078.00 C470.05,1079.33 470.00,1080.67 469.95,1082.00 C469.89,1083.33 469.84,1084.67 469.79,1086.00 C469.74,1087.33 469.68,1088.67 469.63,1090.00 C469.58,1091.33 469.51,1092.67 469.49,1094.00 C469.47,1095.33 469.47,1096.67 469.49,1098.00 C469.51,1099.33 469.58,1100.67 469.63,1102.00 C469.68,1103.33 469.74,1104.67 469.79,1106.00 C469.84,1107.33 469.88,1108.67 469.95,1110.00 C470.01,1111.33 470.06,1112.67 470.17,1114.00 C470.29,1115.33 470.47,1116.67 470.63,1118.00 C470.80,1119.33 470.99,1120.67 471.17,1122.00 C471.34,1123.33 471.52,1124.67 471.70,1126.00 C471.88,1127.33 472.04,1128.67 472.25,1130.00 C472.46,1131.33 472.70,1132.67 472.97,1134.00 C473.24,1135.33 473.57,1136.67 473.87,1138.00 C474.17,1139.33 474.47,1140.67 474.78,1142.00 C475.08,1143.33 475.38,1144.67 475.69,1146.00 C476.00,1147.33 476.30,1148.67 476.66,1150.00 C477.01,1151.33 477.41,1152.67 477.80,1154.00 C478.19,1155.33 478.60,1156.67 479.00,1158.00 C479.40,1159.33 479.80,1160.67 480.20,1162.00 C480.60,1163.33 480.99,1164.67 481.41,1166.00 C481.82,1167.33 482.25,1168.67 482.70,1170.00 C483.14,1171.33 483.61,1172.67 484.07,1174.00 C484.52,1175.33 484.99,1176.67 485.44,1178.00 C485.90,1179.33 486.36,1180.67 486.82,1182.00 C487.28,1183.33 487.74,1184.67 488.19,1186.00 C488.65,1187.33 489.09,1188.67 489.54,1190.00 C489.99,1191.33 490.44,1192.67 490.89,1194.00 C491.33,1195.33 491.77,1196.67 492.24,1198.00 C492.70,1199.33 493.19,1200.67 493.68,1202.00 C494.18,1203.33 494.73,1204.67 495.21,1206.00 C495.70,1207.33 496.17,1208.67 496.61,1210.00 C497.05,1211.33 497.45,1212.67 497.87,1214.00 C498.28,1215.33 498.70,1216.67 499.11,1218.00 C499.53,1219.33 499.95,1220.67 500.35,1222.00 C500.76,1223.33 501.18,1224.67 501.55,1226.00 C501.93,1227.33 502.26,1228.67 502.60,1230.00 C502.94,1231.33 503.27,1232.67 503.60,1234.00 C503.93,1235.33 504.27,1236.67 504.60,1238.00 C504.93,1239.33 505.28,1240.67 505.59,1242.00 C505.90,1243.33 506.19,1244.67 506.47,1246.00 C506.74,1247.33 506.98,1248.67 507.23,1250.00 C507.49,1251.33 507.74,1252.67 507.99,1254.00 C508.24,1255.33 508.50,1256.67 508.74,1258.00 C508.98,1259.33 509.24,1260.67 509.43,1262.00 C509.63,1263.33 509.77,1264.67 509.92,1266.00 C510.07,1267.33 510.20,1268.67 510.34,1270.00 C510.49,1271.33 510.63,1272.67 510.77,1274.00 C510.91,1275.33 511.06,1276.67 511.18,1278.00 C511.30,1279.33 511.40,1280.67 511.48,1282.00 C511.56,1283.33 511.61,1284.67 511.67,1286.00 C511.73,1287.33 511.79,1288.67 511.84,1290.00 C511.90,1291.33 511.97,1292.67 512.02,1294.00 C512.07,1295.33 512.13,1296.67 512.15,1298.00 C512.17,1299.33 512.15,1300.67 512.13,1302.00 C512.12,1303.33 512.09,1304.67 512.07,1306.00 C512.04,1307.33 512.02,1308.67 512.00,1310.00 C511.98,1311.33 511.97,1312.67 511.92,1314.00 C511.87,1315.33 511.78,1316.67 511.68,1318.00 C511.57,1319.33 511.41,1320.67 511.27,1322.00 C511.13,1323.33 510.99,1324.67 510.85,1326.00 C510.71,1327.33 510.57,1328.67 510.43,1330.00 C510.29,1331.33 510.14,1332.67 510.02,1334.00 C509.90,1335.33 509.79,1336.67 509.70,1338.00 C509.60,1339.33 509.54,1340.67 509.47,1342.00 C509.39,1343.33 509.32,1344.67 509.24,1346.00 C509.17,1347.33 509.09,1348.67 509.02,1350.00 C508.95,1351.33 508.88,1352.67 508.82,1354.00 C508.77,1355.33 508.73,1356.67 508.69,1358.00 C508.65,1359.33 508.61,1360.67 508.58,1362.00 C508.54,1363.33 508.50,1364.67 508.47,1366.00 C508.43,1367.33 508.39,1368.67 508.36,1370.00 C508.33,1371.33 508.31,1372.67 508.30,1374.00 C508.29,1375.33 508.30,1376.67 508.30,1378.00 C508.30,1379.33 508.30,1380.67 508.30,1382.00 C508.30,1383.33 508.30,1384.67 508.30,1386.00 C508.30,1387.33 508.30,1388.67 508.33,1390.00 C508.35,1391.33 508.39,1392.67 508.43,1394.00 C508.47,1395.33 508.52,1396.67 508.56,1398.00 C508.61,1399.33 508.66,1400.82 508.70,1402.00 C508.73,1403.18 508.77,1404.58 508.79,1405.10 L559.01,1405.10 C559.03,1404.58 559.07,1403.18 559.10,1402.00 C559.14,1400.82 559.19,1399.33 559.24,1398.00 C559.28,1396.67 559.33,1395.33 559.37,1394.00 C559.41,1392.67 559.45,1391.33 559.47,1390.00 C559.50,1388.67 559.50,1387.33 559.50,1386.00 C559.50,1384.67 559.50,1383.33 559.50,1382.00 C559.50,1380.67 559.50,1379.33 559.50,1378.00 C559.50,1376.67 559.51,1375.33 559.50,1374.00 C559.49,1372.67 559.47,1371.33 559.44,1370.00 C559.41,1368.67 559.37,1367.33 559.33,1366.00 C559.30,1364.67 559.26,1363.33 559.22,1362.00 C559.19,1360.67 559.15,1359.33 559.11,1358.00 C559.07,1356.67 559.03,1355.33 558.98,1354.00 C558.92,1352.67 558.85,1351.33 558.78,1350.00 C558.71,1348.67 558.63,1347.33 558.56,1346.00 C558.48,1344.67 558.41,1343.33 558.33,1342.00 C558.26,1340.67 558.20,1339.33 558.10,1338.00 C558.01,1336.67 557.90,1335.33 557.78,1334.00 C557.66,1332.67 557.51,1331.33 557.37,1330.00 C557.23,1328.67 557.09,1327.33 556.95,1326.00 C556.81,1324.67 556.67,1323.33 556.53,1322.00 C556.39,1320.67 556.23,1319.33 556.12,1318.00 C556.02,1316.67 555.93,1315.33 555.88,1314.00 C555.83,1312.67 555.82,1311.33 555.80,1310.00 C555.78,1308.67 555.76,1307.33 555.73,1306.00 C555.71,1304.67 555.68,1303.33 555.67,1302.00 C555.65,1300.67 555.63,1299.33 555.65,1298.00 C555.67,1296.67 555.73,1295.33 555.78,1294.00 C555.83,1292.67 555.90,1291.33 555.96,1290.00 C556.01,1288.67 556.07,1287.33 556.13,1286.00 C556.19,1284.67 556.24,1283.33 556.32,1282.00 C556.40,1280.67 556.50,1279.33 556.62,1278.00 C556.74,1276.67 556.89,1275.33 557.03,1274.00 C557.17,1272.67 557.31,1271.33 557.46,1270.00 C557.60,1268.67 557.73,1267.33 557.88,1266.00 C558.03,1264.67 558.17,1263.33 558.37,1262.00 C558.56,1260.67 558.82,1259.33 559.06,1258.00 C559.30,1256.67 559.56,1255.33 559.81,1254.00 C560.06,1252.67 560.31,1251.33 560.57,1250.00 C560.82,1248.67 561.06,1247.33 561.33,1246.00 C561.61,1244.67 561.90,1243.33 562.21,1242.00 C562.52,1240.67 562.87,1239.33 563.20,1238.00 C563.53,1236.67 563.87,1235.33 564.20,1234.00 C564.53,1232.67 564.86,1231.33 565.20,1230.00 C565.54,1228.67 565.87,1227.33 566.25,1226.00 C566.62,1224.67 567.04,1223.33 567.45,1222.00 C567.85,1220.67 568.27,1219.33 568.69,1218.00 C569.10,1216.67 569.52,1215.33 569.93,1214.00 C570.35,1212.67 570.75,1211.33 571.19,1210.00 C571.63,1208.67 572.10,1207.33 572.59,1206.00 C573.07,1204.67 573.62,1203.33 574.12,1202.00 C574.61,1200.67 575.10,1199.33 575.56,1198.00 C576.03,1196.67 576.47,1195.33 576.91,1194.00 C577.36,1192.67 577.81,1191.33 578.26,1190.00 C578.71,1188.67 579.15,1187.33 579.61,1186.00 C580.06,1184.67 580.52,1183.33 580.98,1182.00 C581.44,1180.67 581.90,1179.33 582.36,1178.00 C582.81,1176.67 583.28,1175.33 583.73,1174.00 C584.19,1172.67 584.66,1171.33 585.10,1170.00 C585.55,1168.67 585.98,1167.33 586.39,1166.00 C586.81,1164.67 587.20,1163.33 587.60,1162.00 C588.00,1160.67 588.40,1159.33 588.80,1158.00 C589.20,1156.67 589.61,1155.33 590.00,1154.00 C590.39,1152.67 590.79,1151.33 591.14,1150.00 C591.50,1148.67 591.80,1147.33 592.11,1146.00 C592.42,1144.67 592.72,1143.33 593.02,1142.00 C593.33,1140.67 593.63,1139.33 593.93,1138.00 C594.23,1136.67 594.56,1135.33 594.83,1134.00 C595.10,1132.67 595.34,1131.33 595.55,1130.00 C595.76,1128.67 595.92,1127.33 596.10,1126.00 C596.28,1124.67 596.46,1123.33 596.63,1122.00 C596.81,1120.67 597.00,1119.33 597.17,1118.00 C597.33,1116.67 597.51,1115.33 597.63,1114.00 C597.74,1112.67 597.79,1111.33 597.85,1110.00 C597.92,1108.67 597.96,1107.33 598.01,1106.00 C598.06,1104.67 598.12,1103.33 598.17,1102.00 C598.22,1100.67 598.29,1099.33 598.31,1098.00 C598.33,1096.67 598.33,1095.33 598.31,1094.00 C598.29,1092.67 598.22,1091.33 598.17,1090.00 C598.12,1088.67 598.06,1087.33 598.01,1086.00 C597.96,1084.67 597.91,1083.33 597.85,1082.00 C597.80,1080.67 597.75,1079.33 597.66,1078.00 C597.58,1076.67 597.46,1075.33 597.35,1074.00 C597.23,1072.67 597.11,1071.33 596.97,1070.00 C596.82,1068.67 596.65,1067.33 596.49,1066.00 C596.32,1064.67 596.14,1063.33 595.97,1062.00 C595.80,1060.67 595.64,1059.33 595.45,1058.00 C595.26,1056.67 595.06,1055.33 594.85,1054.00 C594.63,1052.67 594.40,1051.33 594.17,1050.00 C593.94,1048.67 593.71,1047.33 593.48,1046.00 C593.25,1044.67 593.02,1043.33 592.79,1042.00 C592.56,1040.67 592.33,1039.33 592.08,1038.00 C591.83,1036.67 591.56,1035.33 591.30,1034.00 C591.04,1032.67 590.77,1031.33 590.50,1030.00 C590.23,1028.67 589.97,1027.33 589.70,1026.00 C589.43,1024.67 589.17,1023.33 588.90,1022.00 C588.62,1020.67 588.33,1019.33 588.04,1018.00 C587.75,1016.67 587.44,1015.33 587.13,1014.00 C586.83,1012.67 586.53,1011.33 586.22,1010.00 C585.92,1008.67 585.61,1007.33 585.31,1006.00 C585.01,1004.67 584.71,1003.33 584.42,1002.00 C584.14,1000.67 583.87,999.33 583.60,998.00 C583.33,996.67 583.07,995.33 582.80,994.00 C582.53,992.67 582.27,991.33 582.00,990.00 C581.73,988.67 581.46,987.33 581.21,986.00 C580.96,984.67 580.72,983.33 580.50,982.00 C580.27,980.67 580.08,979.33 579.87,978.00 C579.66,976.67 579.45,975.33 579.24,974.00 C579.04,972.67 578.83,971.33 578.62,970.00 C578.42,968.67 578.21,967.33 578.02,966.00 C577.83,964.67 577.66,963.33 577.49,962.00 C577.32,960.67 577.15,959.33 576.98,958.00 C576.81,956.67 576.64,955.33 576.47,954.00 C576.30,952.67 576.12,951.33 575.96,950.00 C575.80,948.67 575.64,947.33 575.49,946.00 C575.34,944.67 575.21,943.33 575.06,942.00 C574.92,940.67 574.78,939.33 574.64,938.00 C574.50,936.67 574.36,935.33 574.22,934.00 C574.07,932.67 573.92,931.33 573.75,930.00 C573.58,928.67 573.39,927.33 573.21,926.00 C573.02,924.67 572.84,923.33 572.65,922.00 C572.46,920.67 572.28,919.33 572.09,918.00 C571.91,916.67 571.72,915.33 571.54,914.00 C571.35,912.67 571.16,911.33 570.97,910.00 C570.78,908.67 570.58,907.33 570.39,906.00 C570.20,904.67 570.00,903.33 569.81,902.00 C569.62,900.67 569.43,899.33 569.23,898.00 C569.03,896.67 568.84,895.33 568.62,894.00 C568.41,892.67 568.19,891.33 567.97,890.00 C567.75,888.67 567.52,887.33 567.30,886.00 C567.08,884.67 566.85,883.33 566.63,882.00 C566.41,880.67 566.19,879.33 565.97,878.00 C565.76,876.67 565.55,875.33 565.35,874.00 C565.15,872.67 564.95,871.33 564.75,870.00 C564.55,868.67 564.35,867.33 564.15,866.00 C563.95,864.67 563.75,863.33 563.55,862.00 C563.34,860.67 563.13,859.33 562.91,858.00 C562.69,856.67 562.45,855.33 562.21,854.00 C561.98,852.67 561.74,851.33 561.50,850.00 C561.26,848.67 561.03,847.33 560.79,846.00 C560.55,844.67 560.31,843.33 560.08,842.00 C559.85,840.67 559.61,839.33 559.38,838.00 C559.15,836.67 558.92,835.33 558.69,834.00 C558.46,832.67 558.24,831.33 558.01,830.00 C557.78,828.67 557.55,827.33 557.32,826.00 C557.09,824.67 556.83,823.33 556.62,822.00 C556.41,820.67 556.14,818.67 556.04,818.00 Z" fill="#ce79ae" stroke="#262626" stroke-width="3.4" stroke-linejoin="round"></path>
<path d="M642.93,750.10 C642.88,750.77 642.74,752.77 642.65,754.10 C642.55,755.43 642.42,756.77 642.36,758.10 C642.29,759.43 642.28,760.77 642.26,762.10 C642.23,763.43 642.22,764.77 642.21,766.10 C642.20,767.43 642.18,768.77 642.17,770.10 C642.15,771.43 642.12,772.77 642.13,774.10 C642.14,775.43 642.17,776.77 642.21,778.10 C642.26,779.43 642.34,780.77 642.41,782.10 C642.47,783.43 642.54,784.77 642.61,786.10 C642.67,787.43 642.74,788.77 642.81,790.10 C642.87,791.43 642.94,792.77 643.01,794.10 C643.08,795.43 643.15,796.77 643.23,798.10 C643.30,799.43 643.38,800.77 643.45,802.10 C643.52,803.43 643.60,804.77 643.67,806.10 C643.75,807.43 643.82,808.77 643.90,810.10 C643.97,811.43 644.06,812.77 644.14,814.10 C644.23,815.43 644.32,816.77 644.41,818.10 C644.50,819.43 644.58,820.77 644.67,822.10 C644.76,823.43 644.86,824.77 644.94,826.10 C645.02,827.43 645.11,828.77 645.15,830.10 C645.19,831.43 645.19,832.77 645.20,834.10 C645.21,835.43 645.20,836.77 645.20,838.10 C645.20,839.43 645.20,840.77 645.20,842.10 C645.20,843.43 645.21,844.77 645.19,846.10 C645.17,847.43 645.14,848.77 645.09,850.10 C645.04,851.43 644.96,852.77 644.89,854.10 C644.83,855.43 644.76,856.77 644.69,858.10 C644.63,859.43 644.56,860.77 644.49,862.10 C644.43,863.43 644.36,864.77 644.28,866.10 C644.21,867.43 644.12,868.77 644.04,870.10 C643.95,871.43 643.87,872.77 643.78,874.10 C643.69,875.43 643.62,876.77 643.51,878.10 C643.40,879.43 643.26,880.77 643.10,882.10 C642.94,883.43 642.75,884.77 642.56,886.10 C642.37,887.43 642.18,888.77 641.98,890.10 C641.79,891.43 641.58,892.77 641.38,894.10 C641.19,895.43 640.99,896.77 640.78,898.10 C640.58,899.43 640.39,900.77 640.18,902.10 C639.97,903.43 639.77,904.77 639.52,906.10 C639.27,907.43 638.96,908.77 638.67,910.10 C638.37,911.43 638.06,912.77 637.75,914.10 C637.45,915.43 637.15,916.77 636.84,918.10 C636.54,919.43 636.24,920.77 635.93,922.10 C635.62,923.43 635.30,924.77 634.98,926.10 C634.66,927.43 634.33,928.77 634.01,930.10 C633.68,931.43 633.36,932.77 633.03,934.10 C632.71,935.43 632.38,936.77 632.05,938.10 C631.73,939.43 631.40,940.77 631.07,942.10 C630.74,943.43 630.41,944.77 630.07,946.10 C629.74,947.43 629.41,948.77 629.08,950.10 C628.74,951.43 628.41,952.77 628.08,954.10 C627.74,955.43 627.41,956.77 627.08,958.10 C626.74,959.43 626.41,960.77 626.08,962.10 C625.74,963.43 625.41,964.77 625.08,966.10 C624.74,967.43 624.41,968.77 624.08,970.10 C623.74,971.43 623.41,972.77 623.08,974.10 C622.74,975.43 622.41,976.77 622.08,978.10 C621.74,979.43 621.41,980.77 621.08,982.10 C620.74,983.43 620.41,984.77 620.08,986.10 C619.74,987.43 619.41,988.77 619.08,990.10 C618.74,991.43 618.40,992.77 618.08,994.10 C617.77,995.43 617.46,996.77 617.17,998.10 C616.88,999.43 616.61,1000.77 616.33,1002.10 C616.06,1003.43 615.77,1004.77 615.51,1006.10 C615.24,1007.43 614.98,1008.77 614.75,1010.10 C614.51,1011.43 614.30,1012.77 614.11,1014.10 C613.92,1015.43 613.71,1016.77 613.59,1018.10 C613.47,1019.43 613.44,1020.77 613.39,1022.10 C613.34,1023.43 613.31,1024.77 613.28,1026.10 C613.24,1027.43 613.20,1028.77 613.16,1030.10 C613.13,1031.43 613.07,1032.77 613.07,1034.10 C613.07,1035.43 613.11,1036.77 613.18,1038.10 C613.25,1039.43 613.37,1040.77 613.47,1042.10 C613.58,1043.43 613.68,1044.77 613.79,1046.10 C613.89,1047.43 613.98,1048.77 614.10,1050.10 C614.22,1051.43 614.32,1052.77 614.49,1054.10 C614.66,1055.43 614.89,1056.77 615.11,1058.10 C615.33,1059.43 615.57,1060.77 615.80,1062.10 C616.02,1063.43 616.25,1064.77 616.48,1066.10 C616.72,1067.43 616.93,1068.77 617.18,1070.10 C617.43,1071.43 617.70,1072.77 617.99,1074.10 C618.27,1075.43 618.59,1076.77 618.89,1078.10 C619.19,1079.43 619.50,1080.77 619.80,1082.10 C620.10,1083.43 620.40,1084.77 620.71,1086.10 C621.03,1087.43 621.33,1088.77 621.68,1090.10 C622.04,1091.43 622.44,1092.77 622.83,1094.10 C623.22,1095.43 623.63,1096.77 624.03,1098.10 C624.43,1099.43 624.83,1100.77 625.23,1102.10 C625.63,1103.43 626.02,1104.77 626.44,1106.10 C626.85,1107.43 627.29,1108.77 627.73,1110.10 C628.17,1111.43 628.64,1112.77 629.10,1114.10 C629.56,1115.43 630.02,1116.77 630.48,1118.10 C630.94,1119.43 631.40,1120.77 631.86,1122.10 C632.31,1123.43 632.77,1124.77 633.22,1126.10 C633.66,1127.43 634.09,1128.77 634.52,1130.10 C634.95,1131.43 635.38,1132.77 635.80,1134.10 C636.23,1135.43 636.68,1136.77 637.07,1138.10 C637.46,1139.43 637.81,1140.77 638.13,1142.10 C638.45,1143.43 638.71,1144.77 639.00,1146.10 C639.29,1147.43 639.58,1148.77 639.87,1150.10 C640.16,1151.43 640.46,1152.77 640.76,1154.10 C641.05,1155.43 641.35,1156.77 641.64,1158.10 C641.94,1159.43 642.24,1160.77 642.53,1162.10 C642.83,1163.43 643.12,1164.77 643.40,1166.10 C643.68,1167.43 643.95,1168.77 644.22,1170.10 C644.49,1171.43 644.75,1172.77 645.02,1174.10 C645.29,1175.43 645.56,1176.77 645.82,1178.10 C646.08,1179.43 646.38,1180.77 646.60,1182.10 C646.82,1183.43 647.01,1184.77 647.16,1186.10 C647.31,1187.43 647.39,1188.77 647.51,1190.10 C647.62,1191.43 647.73,1192.77 647.84,1194.10 C647.95,1195.43 648.07,1196.77 648.17,1198.10 C648.28,1199.43 648.39,1200.77 648.48,1202.10 C648.57,1203.43 648.63,1204.77 648.70,1206.10 C648.78,1207.43 648.84,1208.77 648.91,1210.10 C648.97,1211.43 649.04,1212.77 649.10,1214.10 C649.17,1215.43 649.24,1216.77 649.30,1218.10 C649.36,1219.43 649.42,1220.77 649.47,1222.10 C649.52,1223.43 649.56,1224.77 649.60,1226.10 C649.65,1227.43 649.69,1228.77 649.74,1230.10 C649.78,1231.43 649.83,1232.77 649.87,1234.10 C649.91,1235.43 649.96,1236.77 649.99,1238.10 C650.03,1239.43 650.06,1240.77 650.09,1242.10 C650.12,1243.43 650.14,1244.77 650.17,1246.10 C650.20,1247.43 650.23,1248.77 650.26,1250.10 C650.29,1251.43 650.33,1252.77 650.37,1254.10 C650.41,1255.43 650.46,1256.77 650.50,1258.10 C650.55,1259.43 650.59,1260.77 650.64,1262.10 C650.69,1263.43 650.75,1264.77 650.81,1266.10 C650.87,1267.43 650.94,1268.77 651.01,1270.10 C651.07,1271.43 651.14,1272.77 651.21,1274.10 C651.28,1275.43 651.36,1276.77 651.44,1278.10 C651.53,1279.43 651.62,1280.77 651.71,1282.10 C651.80,1283.43 651.88,1284.77 651.97,1286.10 C652.07,1287.43 652.16,1288.77 652.26,1290.10 C652.36,1291.43 652.46,1292.77 652.56,1294.10 C652.66,1295.43 652.76,1296.77 652.85,1298.10 C652.94,1299.43 653.03,1300.78 653.10,1302.10 C653.17,1303.42 653.24,1305.35 653.26,1306.00 L701.14,1306.00 C701.16,1305.35 701.23,1303.42 701.30,1302.10 C701.37,1300.78 701.46,1299.43 701.55,1298.10 C701.64,1296.77 701.74,1295.43 701.84,1294.10 C701.94,1292.77 702.04,1291.43 702.14,1290.10 C702.24,1288.77 702.33,1287.43 702.43,1286.10 C702.52,1284.77 702.60,1283.43 702.69,1282.10 C702.78,1280.77 702.87,1279.43 702.96,1278.10 C703.04,1276.77 703.12,1275.43 703.19,1274.10 C703.26,1272.77 703.33,1271.43 703.39,1270.10 C703.46,1268.77 703.53,1267.43 703.59,1266.10 C703.65,1264.77 703.71,1263.43 703.76,1262.10 C703.81,1260.77 703.85,1259.43 703.90,1258.10 C703.94,1256.77 703.99,1255.43 704.03,1254.10 C704.07,1252.77 704.11,1251.43 704.14,1250.10 C704.17,1248.77 704.20,1247.43 704.23,1246.10 C704.26,1244.77 704.28,1243.43 704.31,1242.10 C704.34,1240.77 704.37,1239.43 704.41,1238.10 C704.44,1236.77 704.49,1235.43 704.53,1234.10 C704.57,1232.77 704.62,1231.43 704.66,1230.10 C704.71,1228.77 704.75,1227.43 704.80,1226.10 C704.84,1224.77 704.88,1223.43 704.93,1222.10 C704.98,1220.77 705.04,1219.43 705.10,1218.10 C705.16,1216.77 705.23,1215.43 705.30,1214.10 C705.36,1212.77 705.43,1211.43 705.50,1210.10 C705.56,1208.77 705.62,1207.43 705.70,1206.10 C705.77,1204.77 705.83,1203.43 705.92,1202.10 C706.01,1200.77 706.12,1199.43 706.23,1198.10 C706.33,1196.77 706.45,1195.43 706.56,1194.10 C706.67,1192.77 706.78,1191.43 706.89,1190.10 C707.01,1188.77 707.09,1187.43 707.24,1186.10 C707.39,1184.77 707.58,1183.43 707.80,1182.10 C708.02,1180.77 708.32,1179.43 708.58,1178.10 C708.84,1176.77 709.11,1175.43 709.38,1174.10 C709.65,1172.77 709.91,1171.43 710.18,1170.10 C710.45,1168.77 710.72,1167.43 711.00,1166.10 C711.28,1164.77 711.57,1163.43 711.87,1162.10 C712.16,1160.77 712.46,1159.43 712.76,1158.10 C713.05,1156.77 713.35,1155.43 713.64,1154.10 C713.94,1152.77 714.24,1151.43 714.53,1150.10 C714.82,1148.77 715.11,1147.43 715.40,1146.10 C715.69,1144.77 715.95,1143.43 716.27,1142.10 C716.59,1140.77 716.94,1139.43 717.33,1138.10 C717.72,1136.77 718.17,1135.43 718.60,1134.10 C719.02,1132.77 719.45,1131.43 719.88,1130.10 C720.31,1128.77 720.74,1127.43 721.18,1126.10 C721.63,1124.77 722.09,1123.43 722.54,1122.10 C723.00,1120.77 723.46,1119.43 723.92,1118.10 C724.38,1116.77 724.84,1115.43 725.30,1114.10 C725.76,1112.77 726.23,1111.43 726.67,1110.10 C727.11,1108.77 727.55,1107.43 727.96,1106.10 C728.38,1104.77 728.77,1103.43 729.17,1102.10 C729.57,1100.77 729.97,1099.43 730.37,1098.10 C730.77,1096.77 731.18,1095.43 731.57,1094.10 C731.96,1092.77 732.36,1091.43 732.72,1090.10 C733.07,1088.77 733.37,1087.43 733.69,1086.10 C734.00,1084.77 734.30,1083.43 734.60,1082.10 C734.90,1080.77 735.21,1079.43 735.51,1078.10 C735.81,1076.77 736.13,1075.43 736.41,1074.10 C736.70,1072.77 736.97,1071.43 737.22,1070.10 C737.47,1068.77 737.68,1067.43 737.92,1066.10 C738.15,1064.77 738.38,1063.43 738.61,1062.10 C738.83,1060.77 739.07,1059.43 739.29,1058.10 C739.51,1056.77 739.74,1055.43 739.91,1054.10 C740.08,1052.77 740.18,1051.43 740.30,1050.10 C740.42,1048.77 740.51,1047.43 740.61,1046.10 C740.72,1044.77 740.82,1043.43 740.93,1042.10 C741.03,1040.77 741.15,1039.43 741.22,1038.10 C741.29,1036.77 741.33,1035.43 741.33,1034.10 C741.33,1032.77 741.27,1031.43 741.24,1030.10 C741.20,1028.77 741.16,1027.43 741.12,1026.10 C741.09,1024.77 741.06,1023.43 741.01,1022.10 C740.96,1020.77 740.93,1019.43 740.81,1018.10 C740.69,1016.77 740.48,1015.43 740.29,1014.10 C740.10,1012.77 739.89,1011.43 739.65,1010.10 C739.42,1008.77 739.16,1007.43 738.89,1006.10 C738.63,1004.77 738.34,1003.43 738.07,1002.10 C737.79,1000.77 737.52,999.43 737.23,998.10 C736.94,996.77 736.63,995.43 736.32,994.10 C736.00,992.77 735.66,991.43 735.32,990.10 C734.99,988.77 734.66,987.43 734.33,986.10 C733.99,984.77 733.66,983.43 733.33,982.10 C732.99,980.77 732.66,979.43 732.33,978.10 C731.99,976.77 731.66,975.43 731.33,974.10 C730.99,972.77 730.66,971.43 730.33,970.10 C729.99,968.77 729.66,967.43 729.33,966.10 C728.99,964.77 728.66,963.43 728.33,962.10 C727.99,960.77 727.66,959.43 727.33,958.10 C726.99,956.77 726.66,955.43 726.33,954.10 C725.99,952.77 725.66,951.43 725.33,950.10 C724.99,948.77 724.66,947.43 724.33,946.10 C723.99,944.77 723.66,943.43 723.33,942.10 C723.00,940.77 722.67,939.43 722.35,938.10 C722.02,936.77 721.69,935.43 721.37,934.10 C721.04,932.77 720.72,931.43 720.39,930.10 C720.07,928.77 719.74,927.43 719.42,926.10 C719.10,924.77 718.78,923.43 718.47,922.10 C718.16,920.77 717.86,919.43 717.56,918.10 C717.25,916.77 716.95,915.43 716.65,914.10 C716.34,912.77 716.03,911.43 715.73,910.10 C715.44,908.77 715.13,907.43 714.88,906.10 C714.63,904.77 714.43,903.43 714.22,902.10 C714.01,900.77 713.82,899.43 713.62,898.10 C713.41,896.77 713.21,895.43 713.02,894.10 C712.82,892.77 712.61,891.43 712.42,890.10 C712.22,888.77 712.03,887.43 711.84,886.10 C711.65,884.77 711.46,883.43 711.30,882.10 C711.14,880.77 711.00,879.43 710.89,878.10 C710.78,876.77 710.71,875.43 710.62,874.10 C710.53,872.77 710.45,871.43 710.36,870.10 C710.28,868.77 710.19,867.43 710.12,866.10 C710.04,864.77 709.97,863.43 709.91,862.10 C709.84,860.77 709.77,859.43 709.71,858.10 C709.64,856.77 709.57,855.43 709.51,854.10 C709.44,852.77 709.36,851.43 709.31,850.10 C709.26,848.77 709.23,847.43 709.21,846.10 C709.19,844.77 709.20,843.43 709.20,842.10 C709.20,840.77 709.20,839.43 709.20,838.10 C709.20,836.77 709.19,835.43 709.20,834.10 C709.21,832.77 709.21,831.43 709.25,830.10 C709.29,828.77 709.38,827.43 709.46,826.10 C709.54,824.77 709.64,823.43 709.73,822.10 C709.82,820.77 709.90,819.43 709.99,818.10 C710.08,816.77 710.17,815.43 710.26,814.10 C710.34,812.77 710.43,811.43 710.50,810.10 C710.58,808.77 710.65,807.43 710.73,806.10 C710.80,804.77 710.88,803.43 710.95,802.10 C711.02,800.77 711.10,799.43 711.17,798.10 C711.25,796.77 711.32,795.43 711.39,794.10 C711.46,792.77 711.53,791.43 711.59,790.10 C711.66,788.77 711.73,787.43 711.79,786.10 C711.86,784.77 711.93,783.43 711.99,782.10 C712.06,780.77 712.14,779.43 712.19,778.10 C712.23,776.77 712.26,775.43 712.27,774.10 C712.28,772.77 712.25,771.43 712.23,770.10 C712.22,768.77 712.20,767.43 712.19,766.10 C712.18,764.77 712.17,763.43 712.14,762.10 C712.12,760.77 712.11,759.43 712.04,758.10 C711.98,756.77 711.85,755.43 711.75,754.10 C711.66,752.77 711.52,750.77 711.47,750.10 Z" fill="#ce79ae" stroke="#262626" stroke-width="3.4" stroke-linejoin="round"></path>
<g stroke="rgba(42,38,52,0.35)" stroke-width="3.4" stroke-linecap="round">
<line x1="187.6" y1="1076.6" x2="330.6" y2="908.0"></line>
<line x1="187.6" y1="1067.8" x2="330.6" y2="1006.2"></line>
<line x1="187.6" y1="1129.0" x2="330.6" y2="1006.2"></line>
<line x1="187.6" y1="1139.3" x2="330.6" y2="1083.6"></line>
<line x1="187.6" y1="1155.0" x2="330.6" y2="1200.7"></line>
<line x1="187.6" y1="1175.0" x2="330.6" y2="997.5"></line>
<line x1="187.6" y1="1177.0" x2="330.6" y2="1288.7"></line>
<line x1="187.6" y1="1213.5" x2="330.6" y2="1114.5"></line>
<line x1="187.6" y1="1271.3" x2="330.6" y2="1088.8"></line>
<line x1="187.6" y1="1405.4" x2="330.6" y2="1006.2"></line>
<line x1="533.9" y1="818.0" x2="677.2" y2="932.8"></line>
<line x1="533.9" y1="931.7" x2="677.2" y2="1088.4"></line>
<line x1="533.9" y1="934.2" x2="677.2" y2="1024.6"></line>
<line x1="533.9" y1="1094.5" x2="677.2" y2="991.3"></line>
<line x1="533.9" y1="1097.5" x2="677.2" y2="1039.9"></line>
<line x1="533.9" y1="1101.0" x2="677.2" y2="1306.0"></line>
<line x1="533.9" y1="1140.0" x2="677.2" y2="1036.3"></line>
<line x1="533.9" y1="1203.9" x2="677.2" y2="1186.4"></line>
<line x1="533.9" y1="1376.8" x2="677.2" y2="890.3"></line>
<line x1="533.9" y1="1405.6" x2="677.2" y2="1278.2"></line>
</g>
<g stroke="#000" stroke-width="6">
<line x1="187.6" y1="1115.0" x2="187.6" y2="1242.1"></line>
<line x1="180.3" y1="1115.0" x2="194.9" y2="1115.0"></line>
<line x1="180.3" y1="1242.1" x2="194.9" y2="1242.1"></line>
<line x1="330.6" y1="955.8" x2="330.6" y2="1108.0"></line>
<line x1="323.3" y1="955.8" x2="337.9" y2="955.8"></line>
<line x1="323.3" y1="1108.0" x2="337.9" y2="1108.0"></line>
<line x1="533.9" y1="982.6" x2="533.9" y2="1223.6"></line>
<line x1="526.6" y1="982.6" x2="541.2" y2="982.6"></line>
<line x1="526.6" y1="1223.6" x2="541.2" y2="1223.6"></line>
<line x1="677.2" y1="905.3" x2="677.2" y2="1112.3"></line>
<line x1="669.9" y1="905.3" x2="684.5" y2="905.3"></line>
<line x1="669.9" y1="1112.3" x2="684.5" y2="1112.3"></line>
</g>
<g fill="#000">
<circle cx="187.6" cy="1067.8" r="5.4"></circle>
<circle cx="187.6" cy="1076.6" r="5.4"></circle>
<circle cx="187.6" cy="1129.0" r="5.4"></circle>
<circle cx="187.6" cy="1139.3" r="5.4"></circle>
<circle cx="187.6" cy="1153.8" r="5.4"></circle>
<circle cx="187.6" cy="1155.0" r="5.4"></circle>
<circle cx="187.6" cy="1175.0" r="5.4"></circle>
<circle cx="187.6" cy="1177.0" r="5.4"></circle>
<circle cx="187.6" cy="1213.5" r="5.4"></circle>
<circle cx="187.6" cy="1271.3" r="5.4"></circle>
<circle cx="187.6" cy="1405.4" r="5.4"></circle>
<circle cx="330.6" cy="749.5" r="5.4"></circle>
<circle cx="330.6" cy="908.0" r="5.4"></circle>
<circle cx="330.6" cy="919.8" r="5.4"></circle>
<circle cx="330.6" cy="969.8" r="5.4"></circle>
<circle cx="330.6" cy="997.5" r="5.4"></circle>
<circle cx="330.6" cy="1005.5" r="5.4"></circle>
<circle cx="330.6" cy="1007.5" r="5.4"></circle>
<circle cx="330.6" cy="1031.6" r="5.4"></circle>
<circle cx="330.6" cy="1083.6" r="5.4"></circle>
<circle cx="330.6" cy="1088.8" r="5.4"></circle>
<circle cx="330.6" cy="1104.5" r="5.4"></circle>
<circle cx="330.6" cy="1114.5" r="5.4"></circle>
<circle cx="330.6" cy="1200.7" r="5.4"></circle>
<circle cx="330.6" cy="1288.7" r="5.4"></circle>
<circle cx="533.9" cy="818.0" r="5.4"></circle>
<circle cx="533.9" cy="931.7" r="5.4"></circle>
<circle cx="533.9" cy="934.2" r="5.4"></circle>
<circle cx="533.9" cy="1029.3" r="5.4"></circle>
<circle cx="533.9" cy="1094.5" r="5.4"></circle>
<circle cx="533.9" cy="1097.5" r="5.4"></circle>
<circle cx="533.9" cy="1101.0" r="5.4"></circle>
<circle cx="533.9" cy="1140.0" r="5.4"></circle>
<circle cx="533.9" cy="1203.9" r="5.4"></circle>
<circle cx="533.9" cy="1376.8" r="5.4"></circle>
<circle cx="533.9" cy="1405.6" r="5.4"></circle>
<circle cx="677.2" cy="750.3" r="5.4"></circle>
<circle cx="677.2" cy="752.8" r="5.4"></circle>
<circle cx="677.2" cy="766.5" r="5.4"></circle>
<circle cx="677.2" cy="890.3" r="5.4"></circle>
<circle cx="677.2" cy="932.8" r="5.4"></circle>
<circle cx="677.2" cy="991.3" r="5.4"></circle>
<circle cx="677.2" cy="1008.8" r="5.4"></circle>
<circle cx="677.2" cy="1024.6" r="5.4"></circle>
<circle cx="677.2" cy="1036.3" r="5.4"></circle>
<circle cx="677.2" cy="1039.9" r="5.4"></circle>
<circle cx="677.2" cy="1078.2" r="5.4"></circle>
<circle cx="677.2" cy="1088.4" r="5.4"></circle>
<circle cx="677.2" cy="1186.4" r="5.4"></circle>
<circle cx="677.2" cy="1278.2" r="5.4"></circle>
<circle cx="677.2" cy="1306.0" r="5.4"></circle>
</g>
<!-- brackets -->
<g fill="none" stroke="#000" stroke-width="2">
<polyline points="187.4,736.8 187.4,717.3 330.4,717.3 330.4,736.8"></polyline>
<polyline points="533.8,736.8 533.8,717.3 677,717.3 677,736.8"></polyline>
</g>
<text x="259.6" y="708" font-size="20" text-anchor="middle">**</text>
<text x="260.2" y="740" font-size="20.8" text-anchor="middle"><tspan class="one">1</tspan>.74</text><path d="M515,0 L515,1237 L197,1010 L197,1180 L530,1409 L696,1409 L696,0 Z" transform="translate(239.95,740.00) scale(0.010156,-0.010156)" fill="rgb(17, 17, 17)"></path>
<text x="606.3" y="709" font-size="21.3" text-anchor="middle">ns</text>
</svg>


</body></html>
